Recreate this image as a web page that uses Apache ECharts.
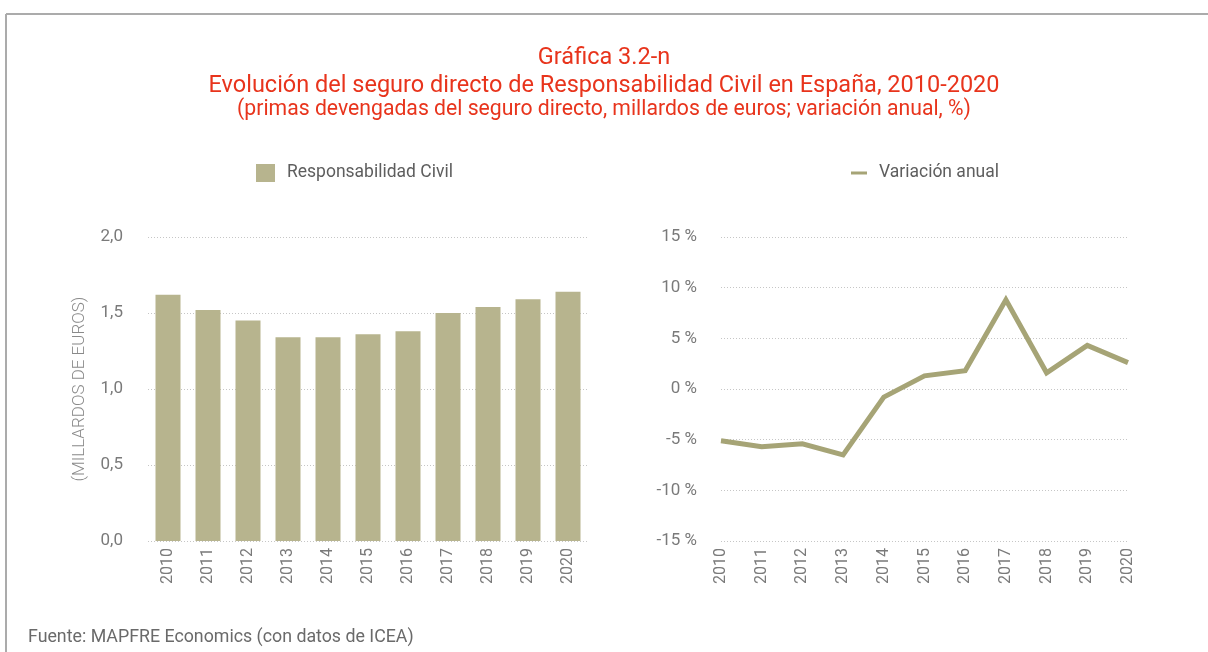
<!DOCTYPE html>
<html>
<head>
<meta charset="utf-8">
<script src="https://cdn.jsdelivr.net/npm/echarts@6/dist/echarts.min.js"></script>
<style>
  html, body { margin: 0; padding: 0; background: #fff; }
  #chart { width: 1208px; height: 652px; }
</style>
</head>
<body>
<div id="chart"></div>
<script>
// Years shown on both panels
const years = ['2010', '2011', '2012', '2013', '2014', '2015', '2016', '2017', '2018', '2019', '2020'];
// Direct written premiums, civil liability (billions of euros)
const primas = [1.62, 1.52, 1.45, 1.34, 1.34, 1.36, 1.38, 1.50, 1.54, 1.59, 1.64];
// Annual change (%)
const variacion = [-5.1, -5.7, -5.4, -6.5, -0.8, 1.3, 1.8, 8.8, 1.6, 4.3, 2.6];

const titleLines = [
  'Gráfica 3.2-n',
  'Evolución del seguro directo de Responsabilidad Civil en España, 2010-2020',
  '(primas devengadas del seguro directo, millardos de euros; variación anual, %)'
];
const footnote = 'Fuente: MAPFRE Economics (con datos de ICEA)';

const FONT = 'Roboto, "Noto Sans", sans-serif';
const RED = '#e8341c';
const BAR = '#b7b48e';
const LINE = '#a6a476';
const GRID = '#c6c6c6';
const TICK = '#7a7a7a';

const chart = echarts.init(document.getElementById('chart'), null, { renderer: 'canvas' });

const catAxisLabel = {
  rotate: 90,
  color: TICK,
  fontFamily: FONT,
  fontSize: 16,
  margin: 7
};

const titleStyle = size => ({ color: RED, fontSize: size, fontWeight: 'normal', fontFamily: FONT });

chart.setOption({
  animation: false,
  textStyle: { fontFamily: FONT },
  title: [
    { text: titleLines[0], left: 'center', top: 41, textStyle: titleStyle(23.5) },
    { text: titleLines[1], left: 'center', top: 69, textStyle: titleStyle(23.5) },
    { text: titleLines[2], left: 'center', top: 94, textStyle: titleStyle(21.2) },
    { text: footnote, left: 23, top: 624, textStyle: { color: '#6a6a6a', fontSize: 17.8, fontWeight: 'normal', fontFamily: FONT } }
  ],
  legend: [
    {
      left: 251, top: 159,
      itemWidth: 19, itemHeight: 18, itemGap: 10,
      icon: 'rect',
      data: ['Responsabilidad Civil'],
      textStyle: { color: '#5e5e5e', fontSize: 17.5, fontFamily: FONT, padding: [0, 0, 0, 7] }
    },
    {
      left: 846, top: 159,
      itemWidth: 16, itemHeight: 3, itemGap: 10,
      icon: 'rect',
      data: ['Variación anual'],
      textStyle: { color: '#5e5e5e', fontSize: 17.5, fontFamily: FONT, padding: [0, 0, 0, 7] }
    }
  ],
  graphic: [
    { type: 'line', shape: { x1: 6, y1: 14, x2: 1208, y2: 14 }, style: { stroke: '#ababab', lineWidth: 2 } },
    { type: 'line', shape: { x1: 6, y1: 14, x2: 6, y2: 652 }, style: { stroke: '#ababab', lineWidth: 2 } }
  ],
  grid: [
    { left: 148, right: 620, top: 237, bottom: 111, containLabel: false },
    { left: 721, right: 80, top: 237, bottom: 111, containLabel: false }
  ],
  xAxis: [
    {
      gridIndex: 0, type: 'category', data: years,
      axisLine: { show: false }, axisTick: { show: false },
      axisLabel: catAxisLabel
    },
    {
      gridIndex: 1, type: 'category', data: years, boundaryGap: false,
      axisLine: { show: false, onZero: false }, axisTick: { show: false },
      axisLabel: catAxisLabel
    }
  ],
  yAxis: [
    {
      gridIndex: 0, type: 'value', min: 0, max: 2, interval: 0.5,
      name: '(MILLARDOS DE EUROS)', nameLocation: 'middle', nameGap: 60, nameRotate: 90,
      nameTextStyle: { color: '#8a8a8a', fontSize: 17, fontWeight: 300, fontFamily: FONT },
      axisLine: { show: false }, axisTick: { show: false },
      axisLabel: {
        color: TICK, fontSize: 17, fontFamily: FONT, margin: 25,
        formatter: v => v.toFixed(1).replace('.', ',')
      },
      splitLine: { lineStyle: { color: GRID, type: [1, 2], width: 1 } }
    },
    {
      gridIndex: 1, type: 'value', min: -15, max: 15, interval: 5,
      axisLine: { show: false }, axisTick: { show: false },
      axisLabel: {
        color: TICK, fontSize: 17, fontFamily: FONT, margin: 24,
        formatter: v => v + ' %'
      },
      splitLine: { lineStyle: { color: GRID, type: [1, 2], width: 1 } }
    }
  ],
  series: [
    {
      name: 'Responsabilidad Civil', type: 'bar',
      xAxisIndex: 0, yAxisIndex: 0,
      data: primas, barWidth: 25,
      itemStyle: { color: BAR }
    },
    {
      name: 'Variación anual', type: 'line',
      xAxisIndex: 1, yAxisIndex: 1,
      data: variacion, symbol: 'none',
      lineStyle: { color: LINE, width: 5, join: 'miter' },
      itemStyle: { color: LINE }
    }
  ]
});
</script>
</body>
</html>
